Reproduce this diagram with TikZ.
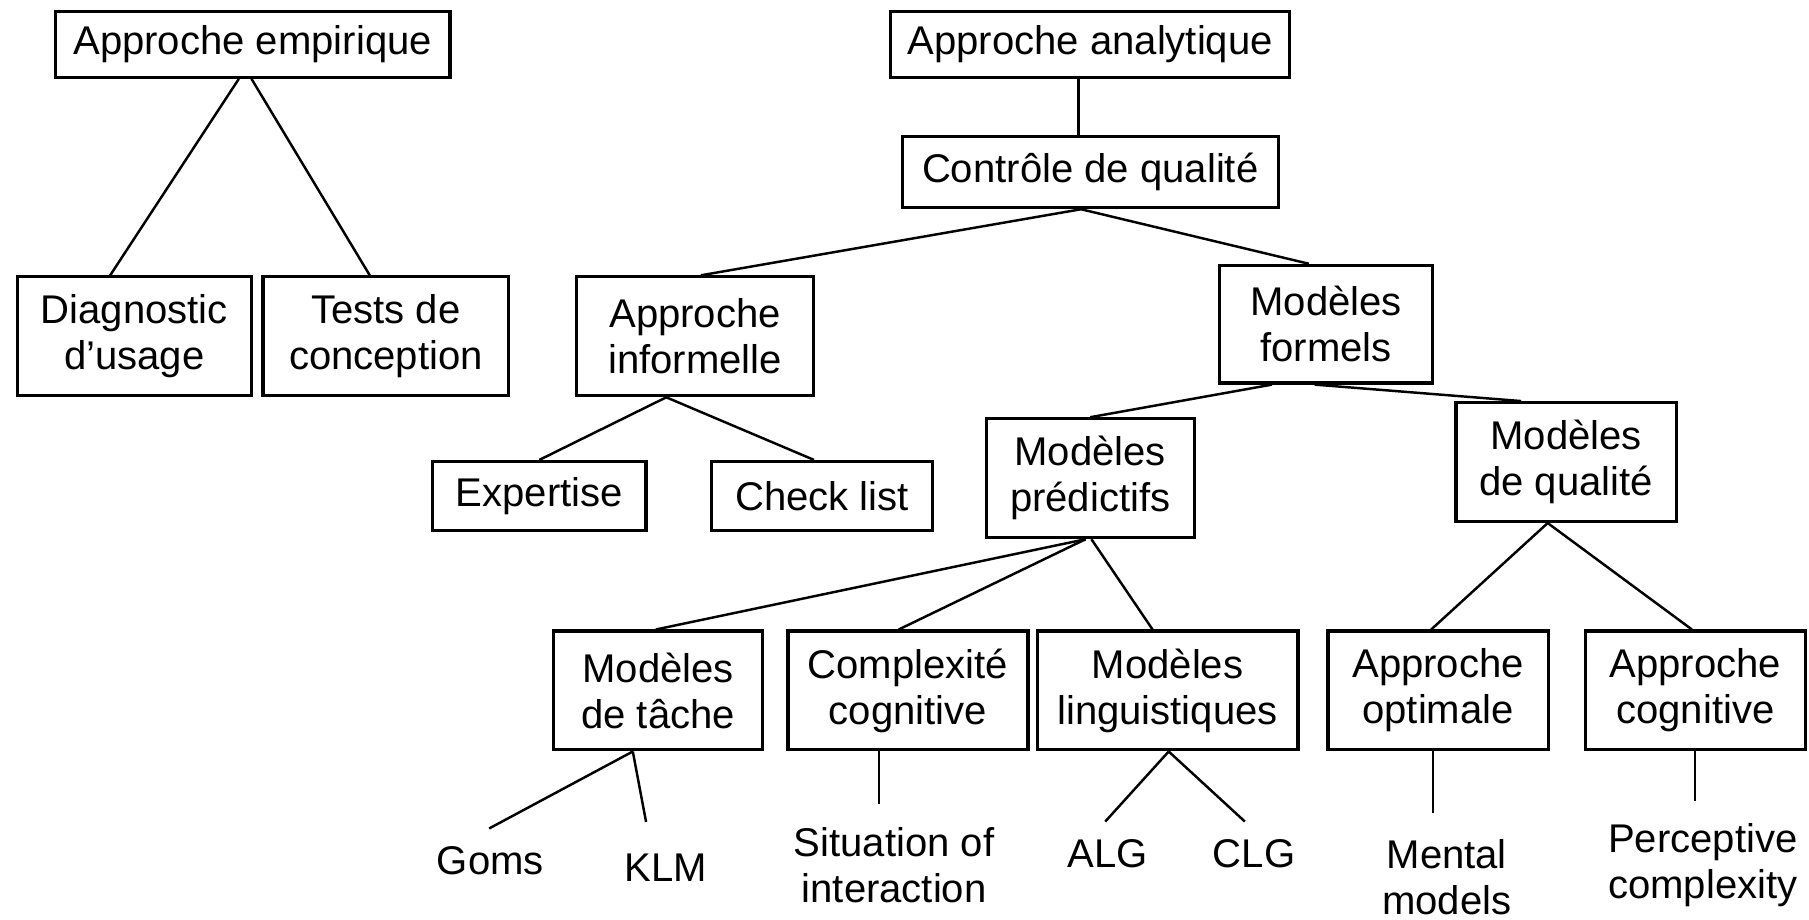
\documentclass[tikz,border=0pt]{standalone}
\usepackage{fontspec}
\setmainfont{Liberation Sans}
\usetikzlibrary{calc}
\begin{document}
\begin{tikzpicture}[x=0.011537cm, y=-0.011537cm,
  txt/.style={font=\fontsize{11.4}{13.1}\selectfont, align=center, inner sep=0pt},
  bx/.style={txt, draw, line width=0.9pt},
  lf/.style={txt},
  sz/.style 2 args={minimum width=#1*0.011537cm, minimum height=#2*0.011537cm},
  ln/.style={line width=0.7pt}]
\useasboundingbox (0,0) rectangle (1568,797);
% boxes
\node[bx, sz={342}{57}] (ae) at (219,38.5) {Approche empirique};
\node[bx, sz={346}{57}] (aa) at (945,38.5) {Approche analytique};
\node[bx, sz={326}{62}] (cq) at (945,149) {Contrôle de qualité};
\node[bx, sz={203}{103}] (dg) at (116.5,291.5) {Diagnostic\\d'usage};
\node[bx, sz={213}{103}] (tc) at (334.5,291.5) {Tests de\\conception};
\node[bx, sz={205}{103}] (ai) at (602.5,291.5) {Approche\\informelle};
\node[bx, sz={185}{102}] (mf) at (1149.5,281) {Modèles\\formels};
\node[bx, sz={185}{60}] (ex) at (467.5,430) {Expertise};
\node[bx, sz={191}{60}] (cl) at (712.5,430) {Check list};
\node[bx, sz={180}{103}] (mp) at (945,414.5) {Modèles\\prédictifs};
\node[bx, sz={191}{103}] (mq) at (1357.5,400.5) {Modèles\\de qualité};
\node[bx, sz={181}{103}] (mt) at (570.5,598.5) {Modèles\\de tâche};
\node[bx, sz={208}{103}] (cc) at (787,598.5) {Complexité\\cognitive};
\node[bx, sz={226}{103}] (ml) at (1012,598.5) {Modèles\\linguistiques};
\node[bx, sz={191}{103}] (ao) at (1246.5,598.5) {Approche\\optimale};
\node[bx, sz={191}{103}] (ac) at (1469.5,598.5) {Approche\\cognitive};
% leaves
\node[lf] (go) at (425,746) {Goms};
\node[lf] (klm) at (577,752) {KLM};
\node[lf] (si) at (775,750) {Situation of\\interaction};
\node[lf] (alg) at (960,740) {ALG};
\node[lf] (clg) at (1087,740) {CLG};
\node[lf] (mm) at (1254,760) {Mental\\models};
\node[lf] (pc) at (1476,750) {Perceptive\\complexity};
% connectors
\draw[ln] ($(ae.south)+(-12,0)$) -- ($(dg.north)+(-21,0)$);
\draw[ln] ($(ae.south)+(-1,0)$) -- ($(tc.north)+(-14,0)$);
\draw[ln] ($(aa.south)+(-10,0)$) -- ($(cq.north)+(-10,0)$);
\draw[ln] ($(cq.south)+(-8,0)$) -- ($(ai.north)+(5,0)$);
\draw[ln] ($(cq.south)+(-8,0)$) -- ($(mf.north)+(-15,0)$);
\draw[ln] ($(ai.south)+(-25,0)$) -- (ex.north);
\draw[ln] ($(ai.south)+(-25,0)$) -- ($(cl.north)+(-7,0)$);
\draw[ln] ($(mf.south)+(-47,0)$) -- (mp.north);
\draw[ln] ($(mf.south)+(-10,0)$) -- ($(mq.north)+(-39,0)$);
\draw[ln] ($(mp.south)+(-4,0)$) -- ($(mt.north)+(-2,0)$);
\draw[ln] ($(mp.south)+(-4,0)$) -- ($(cc.north)+(-8,0)$);
\draw[ln] ($(mp.south)+(1,0)$) -- ($(ml.north)+(-13,0)$);
\draw[ln] ($(mq.south)+(-16,0)$) -- ($(ao.north)+(-6,0)$);
\draw[ln] ($(mq.south)+(-16,0)$) -- ($(ac.north)+(-3,0)$);
\draw[ln] ($(mt.south)+(-22,0)$) -- ($(go.north)+(-1,-15)$);
\draw[ln] ($(mt.south)+(-22,0)$) -- ($(klm.north)+(-17,-27)$);
\draw[ln] ($(cc.south)+(-25,0)$) -- ($(si.north)+(-13,-20)$);
\draw[ln] ($(ml.south)+(1,0)$) -- ($(alg.north)+(-2,-15)$);
\draw[ln] ($(ml.south)+(1,0)$) -- ($(clg.north)+(-8,-15)$);
\draw[ln] ($(ao.south)+(-4.5,0)$) -- ($(mm.north)+(-12,-22)$);
\draw[ln] ($(ac.south)+(-0.5,0)$) -- ($(pc.north)+(-7,-19)$);
\end{tikzpicture}
\end{document}
